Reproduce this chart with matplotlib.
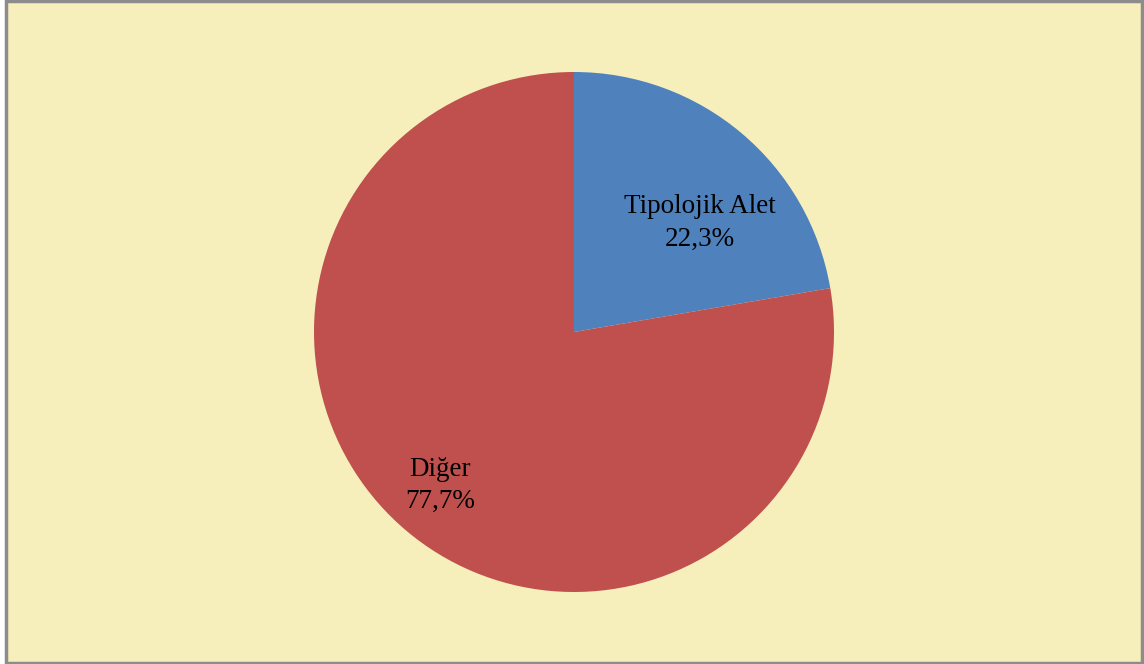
import matplotlib.pyplot as plt
from matplotlib.patches import Rectangle

# data
categories = ["Tipolojik Alet", "Diğer"]
values = [22.3, 77.7]
pct_labels = ["22,3%", "77,7%"]
colors = ["#4F81BD", "#C0504D"]

# where to put each label (fraction of radius)
label_pos = [(0.485, 0.42), (-0.515, -0.59)]

plt.rcParams['font.family'] = ['Liberation Serif', 'DejaVu Serif']

fig = plt.figure(figsize=(11.44, 6.64), dpi=100)
bg = "#F6EEBB"
fig.patch.set_facecolor("white")

# chart area with grey border
fig.patches.append(Rectangle((6 / 1144, 1 / 664), 1136 / 1144, 662 / 664,
                             transform=fig.transFigure, facecolor=bg,
                             edgecolor="#8C8C8C", linewidth=2.5, zorder=-1))

ax = fig.add_axes([314 / 1144, 72 / 664, 520 / 1144, 520 / 664])
ax.set_zorder(2)
ax.set_facecolor("none")
wedges, _ = ax.pie(values, colors=colors, startangle=90, counterclock=False,
                   radius=1.0, wedgeprops=dict(linewidth=0))
ax.set_xlim(-1, 1)
ax.set_ylim(-1, 1)
ax.set_aspect("equal")
ax.axis("off")

for cat, pct, (x, y) in zip(categories, pct_labels, label_pos):
    ax.text(x, y, f"{cat}\n{pct}", ha="center", va="center",
            fontsize=19.5, color="black", linespacing=1.4)

fig.savefig("out.png", dpi=100, facecolor=fig.get_facecolor())
